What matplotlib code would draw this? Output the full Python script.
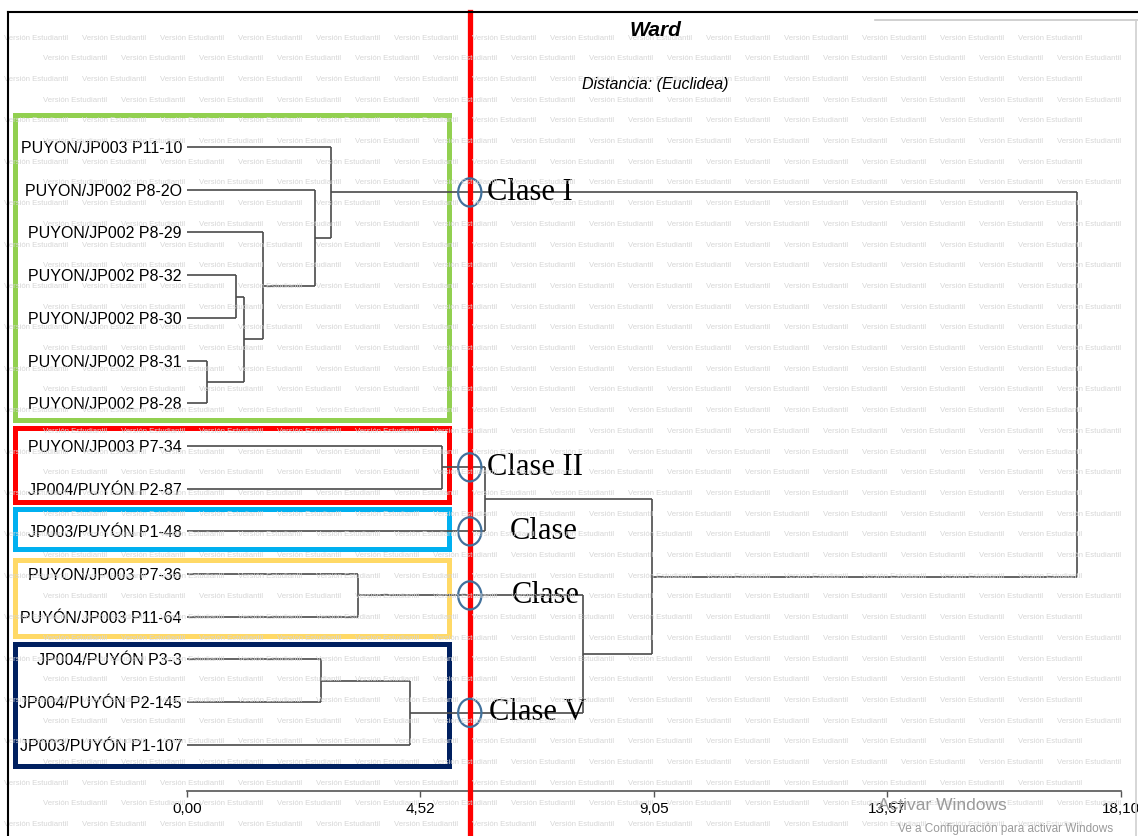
import matplotlib.pyplot as plt
from matplotlib.patches import Rectangle, Ellipse
import numpy as np

# leaves, top to bottom
leaf_labels = ["PUYON/JP003 P11-10", "PUYON/JP002 P8-2O", "PUYON/JP002 P8-29",
               "PUYON/JP002 P8-32", "PUYON/JP002 P8-30", "PUYON/JP002 P8-31",
               "PUYON/JP002 P8-28", "PUYON/JP003 P7-34", "JP004/PUYÓN P2-87",
               "JP003/PUYÓN P1-48", "PUYON/JP003 P7-36", "PUYÓN/JP003 P11-64",
               "JP004/PUYÓN P3-3", "JP004/PUYÓN P2-145", "JP003/PUYÓN P1-107"]

# merges (scipy style: new cluster ids start at 15)
merge_a = [5, 3, 16, 2, 1, 0, 12, 10, 21, 7, 24, 22, 25, 20]
merge_b = [6, 4, 15, 17, 18, 19, 13, 11, 14, 8, 9, 23, 26, 27]
merge_h = [0.39, 0.95, 1.10, 1.47, 2.48, 2.79, 2.60, 3.31, 4.32, 4.94, 5.77, 7.67, 9.01, 17.25]

xticks = [0.00, 4.52, 9.05, 13.57, 18.10]
xtick_labels = ["0,00", "4,52", "9,05", "13,57", "18,10"]

cut_height = 5.48
class_nodes = [20, 24, 9, 22, 23]
class_names = ["Clase I", "Clase II", "Clase", "Clase", "Clase V"]

# boxes around label groups (first leaf, last leaf)
box_first = [0, 7, 9, 10, 12]
box_last = [6, 8, 9, 11, 14]
box_colors = ["#92D050", "#FF0000", "#00B0F0", "#FFD966", "#002060"]

sans = ["Liberation Sans", "DejaVu Sans"]
serif = ["Liberation Serif", "DejaVu Serif"]

W, H = 1138, 836
fig = plt.figure(figsize=(W / 100, H / 100), dpi=100)
fig.patch.set_facecolor("white")

# watermark
for r, py in enumerate(np.arange(38, H - 6, 20.7)):
    shift = 0 if r % 2 == 0 else 39
    for px in np.arange(4 + shift, W - 66, 78):
        fig.text(px / W, 1 - py / H, "Versión Estudiantil", fontsize=5.6,
                 family=sans, color="#d6d6d6", ha="left", va="center", zorder=0)

ax = fig.add_axes([187 / W, (H - 791) / H, (1121 - 187) / W, (791 - 10) / H])
ax.set_facecolor("none")
ax.set_xlim(0, 18.10)
ax.set_ylim(15.08, -3.21)

# dendrogram
node_x = {i: 0.0 for i in range(len(leaf_labels))}
node_y = {i: float(i) for i in range(len(leaf_labels))}
line_kw = dict(color="#4a4a4a", lw=1.2, solid_capstyle="butt", zorder=3)
for k, (a, b, h) in enumerate(zip(merge_a, merge_b, merge_h)):
    nid = len(leaf_labels) + k
    for c in (a, b):
        ax.plot([node_x[c], h], [node_y[c], node_y[c]], **line_kw)
    ax.plot([h, h], [node_y[a], node_y[b]], **line_kw)
    node_x[nid] = h
    node_y[nid] = (node_y[a] + node_y[b]) / 2

ax.set_yticks(range(len(leaf_labels)))
ax.set_yticklabels(leaf_labels, family=sans, fontsize=11.5)
ax.tick_params(axis="y", length=0, pad=3.6)
ax.set_xticks(xticks)
ax.set_xticklabels(xtick_labels, family=sans, fontsize=11)
ax.tick_params(axis="x", length=4, width=1, color="#555555", pad=4)
for s in ("top", "right", "left"):
    ax.spines[s].set_visible(False)
ax.spines["bottom"].set_color("#555555")
ax.spines["bottom"].set_linewidth(1.2)

# coloured boxes
bx0 = -3.33
bx1 = 5.08
top_pad = [0.75, 0.42, 0.52, 0.33, 0.36]
bot_pad = [0.39, 0.31, 0.41, 0.45, 0.50]
for f, l, col, tp, bp in zip(box_first, box_last, box_colors, top_pad, bot_pad):
    ax.add_patch(Rectangle((bx0, f - tp), bx1 - bx0, (l + bp) - (f - tp), fill=False,
                           edgecolor=col, lw=3.6, clip_on=False, zorder=2))

# cut line
ax.axvline(cut_height, ymin=-0.058, ymax=0.997, color="#FF0000", lw=3.8,
           clip_on=False, zorder=4)

# class markers
text_dx = [0.33, 0.33, 0.78, 0.81, 0.37]
for nid, name, dx in zip(class_nodes, class_names, text_dx):
    y = node_y[nid]
    ax.add_patch(Ellipse((cut_height, y), 0.45, 0.66, fill=False, edgecolor="#41719C",
                         lw=1.6, zorder=5, clip_on=False))
    ax.text(cut_height + dx, y, name, family=serif, fontsize=22, va="center",
            ha="left", zorder=6)

# titles
fig.text(655 / W, 1 - 30 / H, "Ward", family=sans, fontsize=15, fontweight="bold",
         style="italic", ha="center", va="center")
fig.text(655 / W, 1 - 85 / H, "Distancia: (Euclidea)", family=sans, fontsize=11.5,
         style="italic", ha="center", va="center")

# frame
fig.add_artist(plt.Line2D([8 / W, 1], [1 - 12 / H, 1 - 12 / H], color="black", lw=1.5))
fig.add_artist(plt.Line2D([8 / W, 8 / W], [0, 1 - 12 / H], color="black", lw=1.5))
fig.add_artist(plt.Line2D([875 / W, 1], [1 - 20 / H, 1 - 20 / H], color="#c8c8c8", lw=1.2))
fig.add_artist(plt.Line2D([1136 / W, 1136 / W], [0, 1 - 20 / H], color="#d0d0d0", lw=1.2))

# windows activation overlay
fig.text(878 / W, 1 - 806 / H, "Activar Windows", family=sans,
         fontsize=12.5, color="#9a9a9a", ha="left", va="center")
fig.text(898 / W, 1 - 829 / H, "Ve a Configuración para activar Windows",
         family=sans, fontsize=8.5, color="#9a9a9a", ha="left", va="center")

fig.savefig("out.png", dpi=100)
